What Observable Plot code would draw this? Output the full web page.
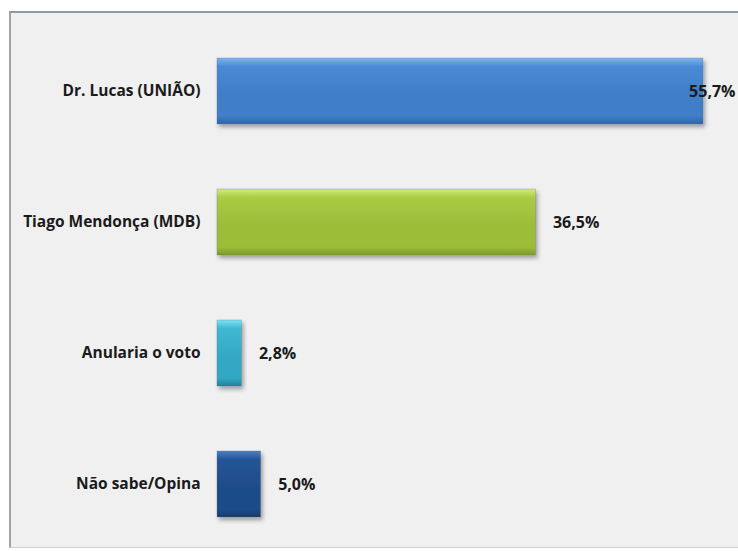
<!DOCTYPE html>
<html>
<head>
<meta charset="utf-8">
<script src="https://cdn.jsdelivr.net/npm/d3@7"></script>
<script src="https://cdn.jsdelivr.net/npm/@observablehq/plot@0.6"></script>
<style>
  html, body { margin: 0; padding: 0; background: #ffffff; }
  #wrap { position: relative; width: 738px; height: 551px; overflow: hidden; }
  #panel { position: absolute; left: 9px; top: 11px; width: 729px; height: 537px;
           background: #f0f0f0; border-top: 2px solid #8e98a6; border-left: 2px solid #a3a3a3;
           border-bottom: 1px solid #cfcfcf; box-sizing: border-box; }
  #chart { position: absolute; left: 0; top: 0; }
  #chart svg { background: transparent !important; }
</style>
</head>
<body>
<div id="wrap"><div id="panel"></div><div id="chart"></div></div>
<script>
const categories = ["Dr. Lucas (UNIÃO)", "Tiago Mendonça (MDB)", "Anularia o voto", "Não sabe/Opina"];
const values = [55.7, 36.5, 2.8, 5.0];
const valueLabels = ["55,7%", "36,5%", "2,8%", "5,0%"];
const gradientIds = ["gLucas", "gTiago", "gAnul", "gNao"];
const palettes = [
  ["#7db6ee", "#4a8ad6", "#3f7ec8", "#2d66a8"],
  ["#d2ec78", "#a9cc44", "#9bbd38", "#7c9a26"],
  ["#7fe2f2", "#3fb8d4", "#33a8c4", "#22829c"],
  ["#4d7fbf", "#245597", "#1f4c89", "#173b6c"]
];

const data = categories.map((c, i) => ({
  cat: c, value: values[i], label: valueLabels[i], fill: `url(#${gradientIds[i]})`
}));
const maxValue = d3.max(values);

function defsMark() {
  const defs = d3.create("svg:defs");
  gradientIds.forEach((id, i) => {
    const p = palettes[i];
    const g = defs.append("linearGradient").attr("id", id)
      .attr("x1", 0).attr("y1", 0).attr("x2", 0).attr("y2", 1);
    g.append("stop").attr("offset", "0%").attr("stop-color", p[0]);
    g.append("stop").attr("offset", "13%").attr("stop-color", p[1]);
    g.append("stop").attr("offset", "55%").attr("stop-color", p[2]);
    g.append("stop").attr("offset", "88%").attr("stop-color", p[2]);
    g.append("stop").attr("offset", "100%").attr("stop-color", p[3]);
  });
  const f = defs.append("filter").attr("id", "shadow")
    .attr("x", "-10%").attr("y", "-10%").attr("width", "130%").attr("height", "140%");
  f.append("feDropShadow").attr("dx", 2).attr("dy", 3).attr("stdDeviation", 2)
    .attr("flood-color", "#000").attr("flood-opacity", 0.35);
  return defs.node();
}

const chart = Plot.plot({
  width: 738,
  height: 551,
  marginLeft: 217,
  marginRight: 35,
  marginTop: 44,
  marginBottom: 21,
  style: { background: "transparent", fontFamily: "'Open Sans', sans-serif" },
  x: { domain: [0, maxValue], axis: null },
  y: { domain: categories, paddingInner: 0.5, paddingOuter: 0.1, label: null },
  color: { type: "identity" },
  marks: [
    defsMark,
    Plot.barX(data, {
      x: "value", y: "cat", fill: "fill",
      stroke: "#5a6b80", strokeOpacity: 0.35, strokeWidth: 0.8
    }),
    Plot.axisY({
      tickSize: 0, tickPadding: 17, fontSize: 15.5, fontWeight: "bold", fill: "#1a1a1a", label: null
    }),
    Plot.text(data.filter(d => d.value !== maxValue), {
      x: "value", y: "cat", text: "label", textAnchor: "start", dx: 17,
      fontSize: 16, fontWeight: "bold", fill: "#1a1a1a"
    }),
    Plot.text(data.filter(d => d.value === maxValue), {
      x: "value", y: "cat", text: "label", textAnchor: "end", dx: 32,
      fontSize: 16, fontWeight: "bold", fill: "#1a1a1a"
    })
  ]
});
d3.select(chart).selectAll("g[aria-label='bar'] rect").attr("filter", "url(#shadow)");
document.getElementById("chart").appendChild(chart);
</script>
</body>
</html>
